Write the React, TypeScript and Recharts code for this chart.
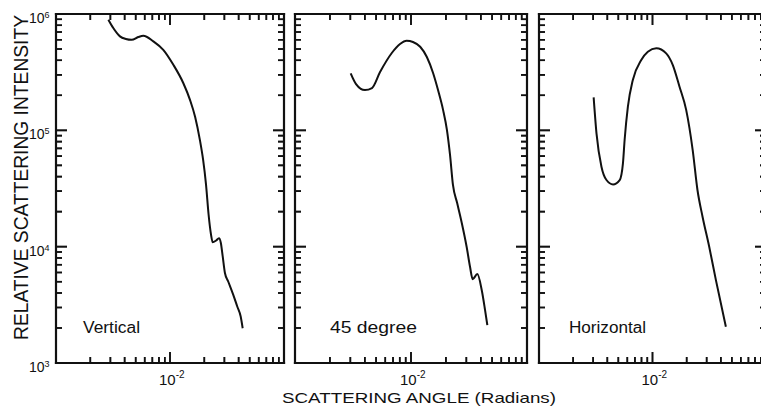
import React from 'react';
import { LineChart, Line, XAxis, YAxis } from 'recharts';

// ---------- data ----------
const angleDomain = [0.001, 0.1];
const intensityDomain = [1000, 1000000];
const angleTicks = [
  0.001, 0.002, 0.003, 0.004, 0.005, 0.006, 0.007, 0.008, 0.009,
  0.01, 0.02, 0.03, 0.04, 0.05, 0.06, 0.07, 0.08, 0.09, 0.1,
];
const intensityTicks = [
  1000, 2000, 3000, 4000, 5000, 6000, 7000, 8000, 9000,
  10000, 20000, 30000, 40000, 50000, 60000, 70000, 80000, 90000,
  100000, 200000, 300000, 400000, 500000, 600000, 700000, 800000, 900000,
  1000000,
];
const angleLabelValues = [0.01];
const angleLabelExponents = ['-2'];
const intensityLabelValues = [1000, 10000, 100000, 1000000];
const intensityLabelExponents = ['3', '4', '5', '6'];
const labelBase = '10';

const verticalAngle = [
  0.00288, 0.00318, 0.00364, 0.0041, 0.00461, 0.00527, 0.00583, 0.00714, 0.00873,
  0.0107, 0.0131, 0.015, 0.0166, 0.0183, 0.0195, 0.0207, 0.0218, 0.0229, 0.0237,
  0.0254, 0.0269, 0.0279, 0.029, 0.0303, 0.0324, 0.0359, 0.0389, 0.0417, 0.0434,
];
const verticalIntensity = [
  893000, 757000, 642000, 610000, 600000, 634000, 650000, 582000, 492000,
  366000, 254000, 182000, 131000, 82400, 56200, 34200, 18900, 12700, 10900,
  11300, 11800, 10800, 8240, 5970, 5020, 3850, 3060, 2510, 1990,
];

const degree45Angle = [
  0.00302, 0.00336, 0.00401, 0.00461, 0.00541, 0.00683, 0.00804, 0.00918, 0.0104,
  0.012, 0.0137, 0.0155, 0.0171, 0.0189, 0.0204, 0.0217, 0.023, 0.025, 0.0274,
  0.0302, 0.0323, 0.034, 0.0373, 0.0407, 0.0435, 0.0455,
];
const degree45Intensity = [
  309000, 250000, 222000, 231000, 317000, 462000, 552000, 589000, 574000,
  523000, 427000, 311000, 222000, 150000, 101000, 61400, 33900, 23700, 16000,
  9930, 6680, 5260, 5810, 4240, 2850, 2120,
];

const horizontalAngle = [
  0.00303, 0.00321, 0.00355, 0.00393, 0.00449, 0.00514, 0.00549, 0.00568, 0.00607,
  0.00671, 0.00796, 0.0091, 0.0108, 0.0132, 0.0151, 0.0173, 0.0198, 0.0226,
  0.0249, 0.0276, 0.0316, 0.0362, 0.0443,
];
const horizontalIntensity = [
  192000, 94200, 48700, 37400, 34300, 37400, 52000, 82600, 160000,
  271000, 402000, 474000, 507000, 459000, 364000, 237000, 150000, 67700,
  30700, 18100, 9980, 5160, 2050,
];

const panelNames = ['Vertical', '45 degree', 'Horizontal'];
const panelAngles = [verticalAngle, degree45Angle, horizontalAngle];
const panelIntensities = [verticalIntensity, degree45Intensity, horizontalIntensity];

const yTitle = 'RELATIVE SCATTERING INTENSITY';
const xTitle = 'SCATTERING ANGLE (Radians)';

// ---------- layout / style ----------
const CHART_W = 790;
const CHART_H = 414;
const PLOT_TOP = 14;
const PLOT_BOTTOM = 363;
const panelLeft = [56, 295, 539];
const panelRight = [284, 527, 766];
const panelLabelX = [83, 330, 569];
const panelLabelLen = [57, 87, 77];
const FONT = '"Liberation Sans", Arial, Helvetica, sans-serif';
const INK = '#111111';

const frameLine = { stroke: INK, strokeWidth: 2.2, strokeLinecap: 'square' as const };

function tickLength(v: number): number {
  const lg = Math.log10(Number(v));
  return Math.abs(lg - Math.round(lg)) < 1e-6 ? 11 : 6;
}
const findIdx = (arr: number[], v: number) =>
  arr.findIndex((a) => Math.abs(a - v) / a < 1e-6);
const same = (a: number, b: number) => Math.abs(a - b) / b < 1e-6;

// bottom axis ticks: bottom tick, matching top tick, right frame edge at domain end
function makeBottomTick(plotH: number) {
  return function BottomTick(props: any) {
    const x = Number(props.x);
    const y = Number(props.y);
    const v = Number(props.payload.value);
    const len = tickLength(v);
    const top = y - plotH;
    const li = findIdx(angleLabelValues, v);
    const isEnd = same(v, angleDomain[1]);
    return (
      <g>
        <line x1={x} y1={y} x2={x} y2={y - len} stroke="#111111" strokeWidth={1.6} />
        <line x1={x} y1={top} x2={x} y2={top + len} stroke="#111111" strokeWidth={1.6} />
        {isEnd && (
          <path
            d={`M${x},${top}V${y}`}
            stroke={INK}
            strokeWidth={2.2}
            strokeLinecap="square"
            fill="none"
          />
        )}
        {li >= 0 && (
          <text x={x - 11} y={y + 22} fontSize={15} fontFamily={FONT} fill={INK}>
            {labelBase}
            <tspan dy={-7} fontSize={10}>
              {angleLabelExponents[li]}
            </tspan>
          </text>
        )}
      </g>
    );
  };
}

// left axis ticks: left tick, matching right tick, top frame edge at domain end
function makeLeftTick(plotW: number, showLabels: boolean) {
  return function LeftTick(props: any) {
    const x = Number(props.x);
    const y = Number(props.y);
    const v = Number(props.payload.value);
    const len = tickLength(v);
    const right = x + plotW;
    const li = showLabels ? findIdx(intensityLabelValues, v) : -1;
    const isEnd = same(v, intensityDomain[1]);
    return (
      <g>
        <line x1={x} y1={y} x2={x + len} y2={y} stroke="#111111" strokeWidth={1.6} />
        <line x1={right} y1={y} x2={right - len} y2={y} stroke="#111111" strokeWidth={1.6} />
        {isEnd && (
          <path
            d={`M${x},${y}H${right}`}
            stroke={INK}
            strokeWidth={2.2}
            strokeLinecap="square"
            fill="none"
          />
        )}
        {li >= 0 && (
          <text x={x - 27} y={y + 9} fontSize={14} fontFamily={FONT} fill={INK}>
            {labelBase}
            <tspan dy={-5} fontSize={9}>
              {intensityLabelExponents[li]}
            </tspan>
          </text>
        )}
      </g>
    );
  };
}

// inward tick marks on all four sides of a panel, placed on the same log mapping as the axes
function panelTickPath(i: number): string {
  const plotW = panelRight[i] - panelLeft[i];
  const plotH = PLOT_BOTTOM - PLOT_TOP;
  const lx0 = Math.log10(angleDomain[0]);
  const lx1 = Math.log10(angleDomain[1]);
  const ly0 = Math.log10(intensityDomain[0]);
  const ly1 = Math.log10(intensityDomain[1]);
  const parts: string[] = [];
  angleTicks.forEach((v) => {
    const px = panelLeft[i] + ((Math.log10(v) - lx0) / (lx1 - lx0)) * plotW;
    const len = tickLength(v);
    parts.push(`M${px},${PLOT_BOTTOM}V${PLOT_BOTTOM - len}M${px},${PLOT_TOP}V${PLOT_TOP + len}`);
  });
  intensityTicks.forEach((v) => {
    const py = PLOT_BOTTOM - ((Math.log10(v) - ly0) / (ly1 - ly0)) * plotH;
    const len = tickLength(v);
    parts.push(
      `M${panelLeft[i]},${py}H${panelLeft[i] + len}M${panelRight[i]},${py}H${panelRight[i] - len}`
    );
  });
  return parts.join('');
}

function Panel({ index }: { index: number }) {
  const data = panelAngles[index].map((a, i) => ({ x: a, y: panelIntensities[index][i] }));
  const plotW = panelRight[index] - panelLeft[index];
  const plotH = PLOT_BOTTOM - PLOT_TOP;
  const BottomTick = makeBottomTick(plotH);
  const LeftTick = makeLeftTick(plotW, index === 0);
  return (
    <div style={{ position: 'absolute', left: 0, top: 0 }}>
      <LineChart
        width={CHART_W}
        height={CHART_H}
        data={data}
        margin={{
          top: PLOT_TOP,
          bottom: CHART_H - PLOT_BOTTOM - 1,
          left: panelLeft[index] - 1,
          right: CHART_W - panelRight[index],
        }}
      >
        <XAxis
          xAxisId="b"
          dataKey="x"
          type="number"
          scale="log"
          domain={angleDomain}
          allowDataOverflow
          ticks={angleTicks}
          interval={0}
          height={1}
          tickSize={0}
          tickMargin={0}
          tickLine={false}
          axisLine={frameLine}
          tick={(p: any) => <BottomTick {...p} />}
        />
        <YAxis
          yAxisId="l"
          dataKey="y"
          type="number"
          scale="log"
          domain={intensityDomain}
          allowDataOverflow
          ticks={intensityTicks}
          interval={0}
          width={1}
          tickSize={0}
          tickMargin={0}
          tickLine={false}
          axisLine={frameLine}
          tick={(p: any) => <LeftTick {...p} />}
        />
        <Line
          xAxisId="b"
          yAxisId="l"
          dataKey="y"
          type="monotone"
          stroke={INK}
          strokeWidth={2}
          dot={false}
          isAnimationActive={false}
        />
      </LineChart>
    </div>
  );
}

export default function App() {
  return (
    <div
      style={{
        position: 'absolute',
        left: 0,
        top: 0,
        width: 761,
        height: 414,
        overflow: 'hidden',
        background: '#fff',
      }}
    >
      {[0, 1, 2].map((i) => (
        <Panel key={i} index={i} />
      ))}
      <svg
        width={761}
        height={414}
        style={{ position: 'absolute', left: 0, top: 0, pointerEvents: 'none' }}
      >
        {[0, 1, 2].map((i) => (
          <path key={`ticks-${i}`} d={panelTickPath(i)} stroke={INK} strokeWidth={1.6} fill="none" />
        ))}
        <text
          transform="translate(28,177.5) rotate(-90)"
          textAnchor="middle"
          fontSize={20}
          fontFamily={FONT}
          fill={INK}
          textLength={325}
          lengthAdjust="spacingAndGlyphs"
        >
          {yTitle}
        </text>
        <text
          x={282}
          y={403}
          fontSize={15}
          fontFamily={FONT}
          fill={INK}
          textLength={274}
          lengthAdjust="spacingAndGlyphs"
        >
          {xTitle}
        </text>
        {panelNames.map((n, i) => (
          <text
            key={n}
            x={panelLabelX[i]}
            y={333}
            fontSize={16}
            fontFamily={FONT}
            fill={INK}
            textLength={panelLabelLen[i]}
            lengthAdjust="spacingAndGlyphs"
          >
            {n}
          </text>
        ))}
      </svg>
    </div>
  );
}
